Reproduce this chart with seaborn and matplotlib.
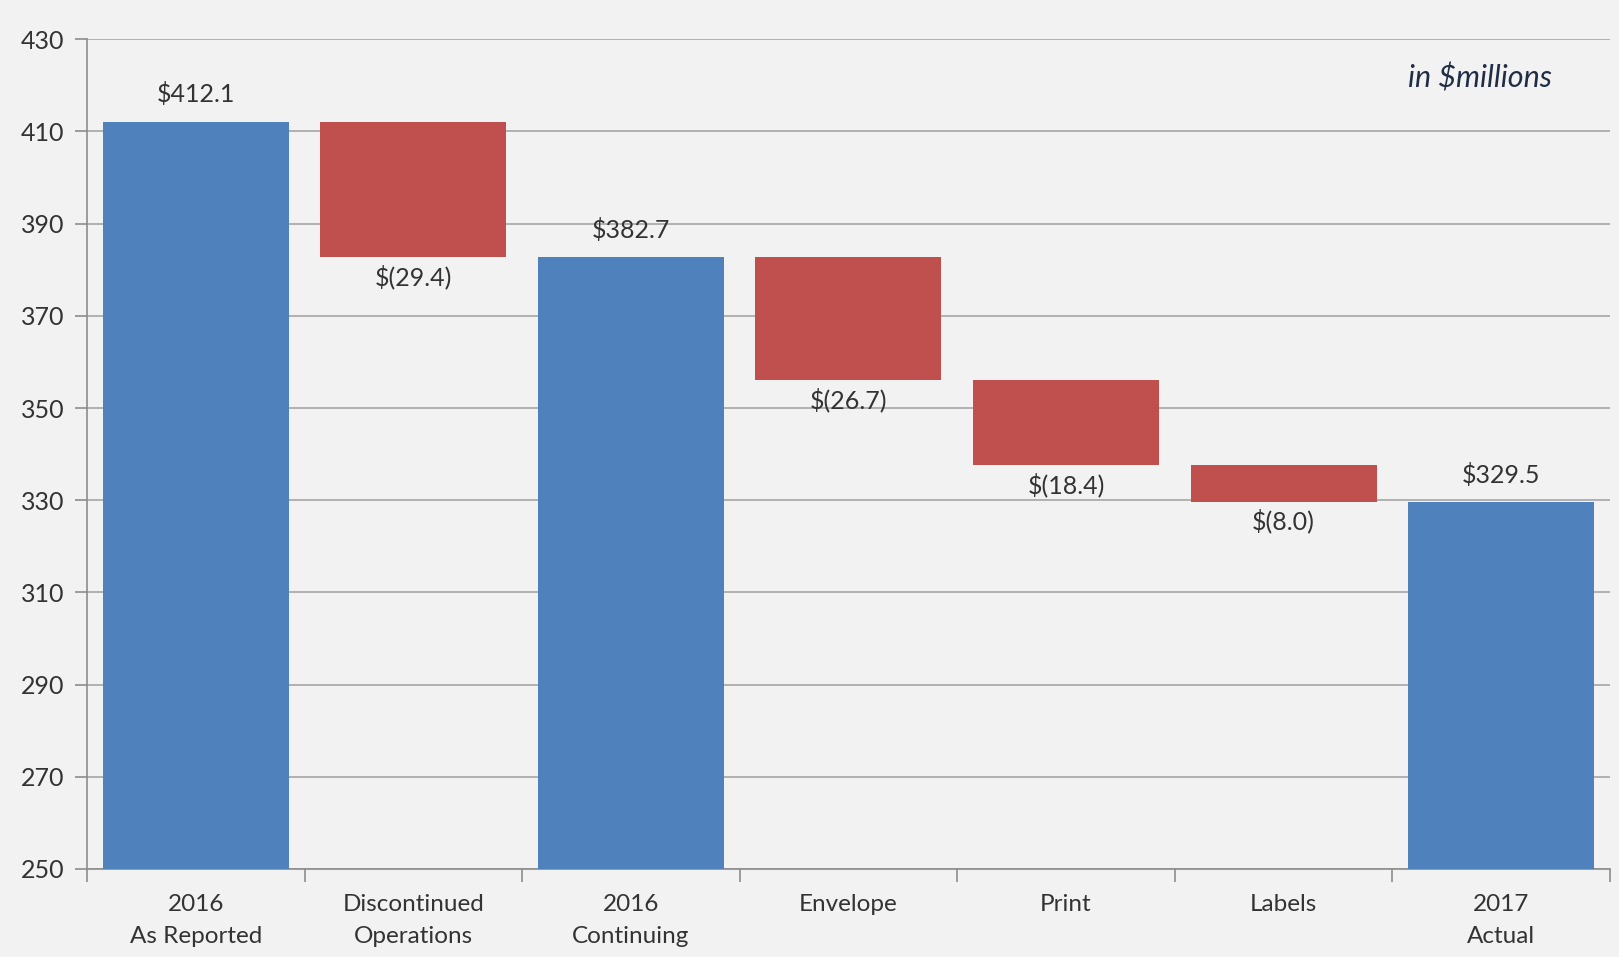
import matplotlib
matplotlib.use("Agg")
import matplotlib.pyplot as plt
import seaborn as sns
import numpy as np
import pandas as pd
from matplotlib.ticker import FixedLocator, NullFormatter

# ---- data ----
categories = ["2016\nAs Reported", "Discontinued\nOperations", "2016\nContinuing",
              "Envelope", "Print", "Labels", "2017\nActual"]
total_cats = ["2016\nAs Reported", "2016\nContinuing", "2017\nActual"]
total_values = [412.1, 382.7, 329.5]
change_cats = ["Discontinued\nOperations", "Envelope", "Print", "Labels"]
change_values = [-29.4, -26.7, -18.4, -8.0]
change_starts = [412.1, 382.7, 356.0, 337.6]
total_labels = ["$412.1", "$382.7", "$329.5"]
change_labels = ["$(29.4)", "$(26.7)", "$(18.4)", "$(8.0)"]
y_ticks = [250, 270, 290, 310, 330, 350, 370, 390, 410, 430]

BLUE = "#4F81BD"
RED = "#C0504D"
BG = "#F2F2F2"
TXT = "#333333"

sns.set_theme(style="white")
plt.rcParams["font.family"] = ["Lato", "DejaVu Sans"]

fig = plt.figure(figsize=(16.19, 9.57), dpi=100, facecolor=BG)
ax = fig.add_axes([0.0537, 0.092, 0.9407, 0.867])
ax.set_facecolor(BG)

tot_df = pd.DataFrame({"cat": total_cats, "val": total_values})
chg_df = pd.DataFrame({"cat": change_cats,
                       "val": [abs(v) for v in change_values],
                       "bottom": [s + v for s, v in zip(change_starts, change_values)]})

sns.barplot(data=tot_df, x="cat", y="val", order=categories, color=BLUE,
            saturation=1, width=0.855, ax=ax, zorder=3, errorbar=None, linewidth=0)
sns.barplot(data=chg_df, x="cat", y="val", order=categories, color=RED,
            saturation=1, width=0.855, ax=ax, zorder=3, errorbar=None, linewidth=0,
            bottom=chg_df["bottom"].values)

ax.set_ylim(250, 430)
ax.set_xlim(-0.5, 6.5)
ax.set_xlabel("")
ax.set_ylabel("")

ax.yaxis.set_major_locator(FixedLocator(y_ticks))
ax.grid(axis="y", color="#A6A6A6", linewidth=1.2, zorder=0)
ax.set_axisbelow(True)

for s in ["top", "right"]:
    ax.spines[s].set_visible(False)
for s in ["left", "bottom"]:
    ax.spines[s].set_color("#8C8C8C")
    ax.spines[s].set_linewidth(1.2)

ax.tick_params(axis="y", which="major", length=9, width=1.2, color="#8C8C8C",
               labelsize=18, labelcolor=TXT, pad=7, left=True)
ax.xaxis.set_minor_locator(FixedLocator(np.arange(-0.5, 7.0, 1.0)))
ax.xaxis.set_minor_formatter(NullFormatter())
ax.tick_params(axis="x", which="major", length=0, labelsize=17.5, labelcolor=TXT, pad=18)
ax.tick_params(axis="x", which="minor", length=9, width=1.2, color="#8C8C8C", bottom=True)
for lbl in ax.get_xticklabels():
    lbl.set_linespacing(1.65)

# labels
for c, v, t in zip(total_cats, total_values, total_labels):
    xi = categories.index(c)
    ax.annotate(t, (xi, v), xytext=(0, 11), textcoords="offset points",
                ha="center", va="bottom", fontsize=18, color=TXT)
for c, s, v, t in zip(change_cats, change_starts, change_values, change_labels):
    xi = categories.index(c)
    ax.annotate(t, (xi, s + v), xytext=(0, -5), textcoords="offset points",
                ha="center", va="top", fontsize=18, color=TXT)

ax.text(0.962, 0.953, "in $millions", transform=ax.transAxes, ha="right", va="center",
        fontsize=22, style="italic", color="#1F2D45")

fig.savefig("out.png", dpi=100, facecolor=BG)
